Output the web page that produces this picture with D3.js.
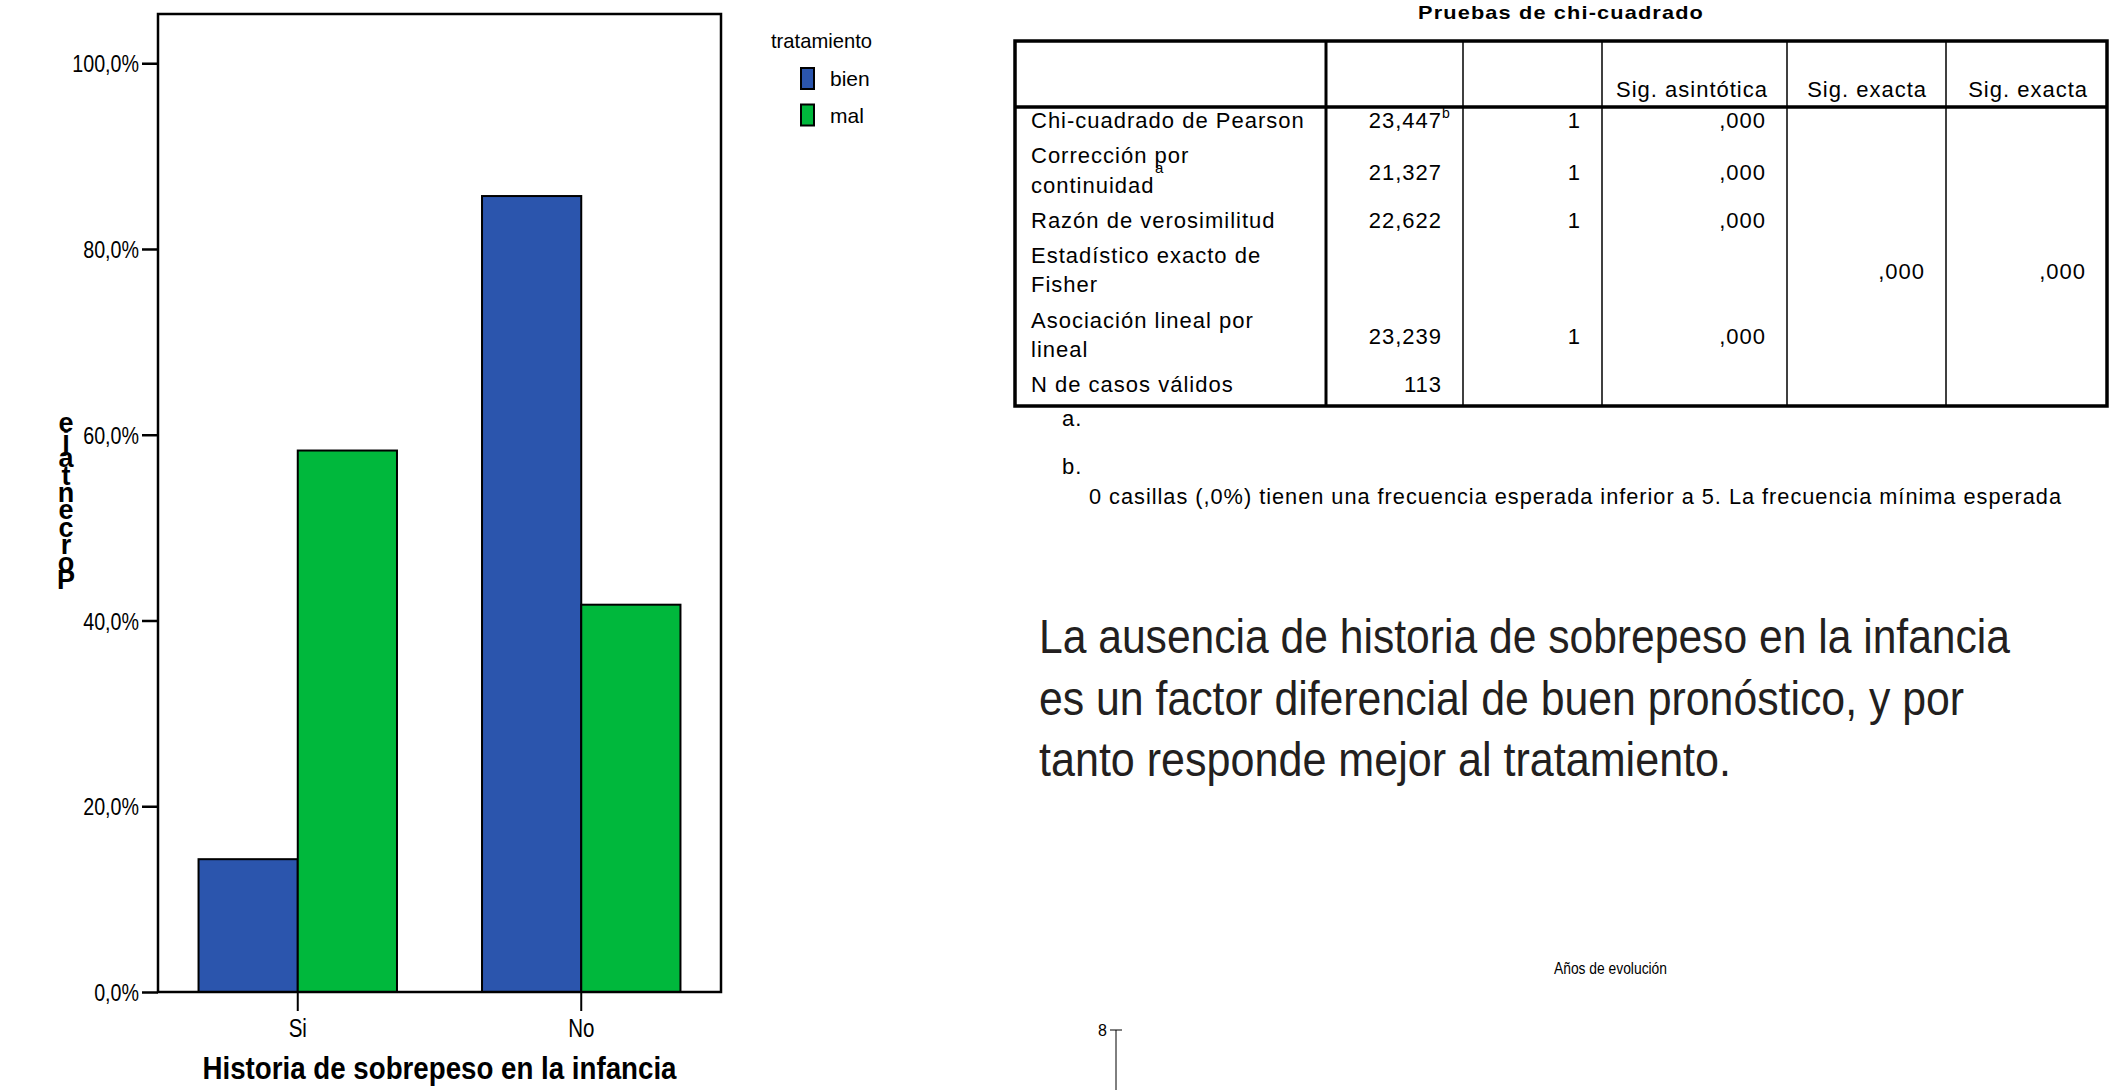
<!DOCTYPE html>
<html>
<head>
<meta charset="utf-8">
<script src="https://cdn.jsdelivr.net/npm/d3@7"></script>
<style>
  body { margin: 0; background: #fff; }
  text { fill: #000; }
  .narrow { font-family: "Liberation Sans", Arial, sans-serif; }
  .tbl { font-family: "Liberation Sans", Arial, sans-serif; font-size: 22px; letter-spacing: 1px; }
</style>
</head>
<body>
<div id="chart"></div>
<script>
// chart data
const categories = ["Si", "No"];
const groups = ["bien", "mal"];
const bien = [14.3, 85.7];
const mal = [58.3, 41.7];
const yTicks = [0, 20, 40, 60, 80, 100];
const colors = { bien: "#2b55ad", mal: "#00b83c" };

// table data
const tableTitle = "Pruebas de chi-cuadrado";
const headers = ["", "", "", "Sig. asintótica", "Sig. exacta", "Sig. exacta"];
const rowLabels = [["Chi-cuadrado de Pearson"], ["Corrección por", "continuidad"], ["Razón de verosimilitud"],
  ["Estadístico exacto de", "Fisher"], ["Asociación lineal por", "lineal"], ["N de casos válidos"]];
const valor = ["23,447", "21,327", "22,622", "", "23,239", "113"];
const gl = ["1", "1", "1", "", "1", ""];
const sigAsint = [",000", ",000", ",000", "", ",000", ""];
const sigExacta1 = ["", "", "", ",000", "", ""];
const sigExacta2 = ["", "", "", ",000", "", ""];
const footA = "a.";
const footB = "b.";
const footText = "0 casillas (,0%) tienen una frecuencia esperada inferior a 5. La frecuencia mínima esperada";
const bigText = ["La ausencia de historia de sobrepeso en la infancia",
  "es un factor diferencial de buen pronóstico, y por",
  "tanto responde mejor al tratamiento."];

const W = 2127, H = 1090;
const svg = d3.select("#chart").append("svg").attr("width", W).attr("height", H);

// squeeze text to look like a condensed face (no narrow font installed)
function squeeze(sel, k) {
  sel.each(function () {
    const L = this.getComputedTextLength();
    d3.select(this).attr("textLength", L * k).attr("lengthAdjust", "spacingAndGlyphs");
  });
}

// ---------- bar chart ----------
const plot = { left: 158, right: 721, top: 14, bottom: 992 };

const x = d3.scaleBand().domain(categories).range([plot.left, plot.right])
  .paddingInner(0.3).paddingOuter(0.143);
const xg = d3.scaleBand().domain(groups).range([0, x.bandwidth()]);
const y = d3.scaleLinear().domain([0, 105.3]).range([plot.bottom, plot.top]);

const series = { bien: bien, mal: mal };
const barData = [];
categories.forEach((c, i) => groups.forEach(g => barData.push({ cat: c, grp: g, v: series[g][i] })));

svg.append("g").selectAll("rect").data(barData).enter().append("rect")
  .attr("x", d => x(d.cat) + xg(d.grp))
  .attr("y", d => y(d.v))
  .attr("width", xg.bandwidth())
  .attr("height", d => y(0) - y(d.v))
  .attr("fill", d => colors[d.grp])
  .attr("stroke", "#000").attr("stroke-width", 2);

// frame
svg.append("rect")
  .attr("x", plot.left).attr("y", plot.top)
  .attr("width", plot.right - plot.left).attr("height", plot.bottom - plot.top)
  .attr("fill", "none").attr("stroke", "#000").attr("stroke-width", 2.5);

// y axis
const yAxis = svg.append("g").attr("class", "narrow")
  .attr("transform", `translate(${plot.left},0)`)
  .call(d3.axisLeft(y).tickValues(yTicks).tickSize(16).tickPadding(3)
    .tickFormat(d => d.toFixed(1).replace(".", ",") + "%"));
yAxis.select(".domain").remove();
yAxis.selectAll(".tick line").attr("stroke", "#000").attr("stroke-width", 2.5);
yAxis.selectAll(".tick text").attr("font-size", 24).attr("fill", "#000").attr("dy", "0.36em")
  .call(squeeze, 0.82);

// x axis
const xAxis = svg.append("g").attr("class", "narrow")
  .attr("transform", `translate(0,${plot.bottom})`)
  .call(d3.axisBottom(x).tickSize(19).tickPadding(8));
xAxis.select(".domain").remove();
xAxis.selectAll(".tick line").attr("stroke", "#000").attr("stroke-width", 2);
xAxis.selectAll(".tick text").attr("font-size", 25).attr("fill", "#000").call(squeeze, 0.82);

// x title
svg.append("text").attr("class", "narrow")
  .attr("x", (plot.left + plot.right) / 2).attr("y", 1079)
  .attr("text-anchor", "middle").attr("font-size", 32).attr("font-weight", "bold")
  .attr("textLength", 474).attr("lengthAdjust", "spacingAndGlyphs")
  .text("Historia de sobrepeso en la infancia");

// y title: upright glyphs stacked bottom to top (as in the export)
const yTitle = "Porcentaje";
svg.append("g").selectAll("text").data(yTitle.split("")).enter().append("text")
  .attr("x", 66).attr("y", (d, i) => 589 - i * 17.4)
  .attr("text-anchor", "middle")
  .attr("font-family", "Liberation Sans, Arial, sans-serif")
  .attr("font-weight", "bold").attr("font-size", 27)
  .text(d => d);

// legend
const legend = svg.append("g").attr("font-family", "Liberation Sans, Arial, sans-serif");
legend.append("text").attr("x", 771).attr("y", 48).attr("font-size", 21)
  .attr("textLength", 101).attr("lengthAdjust", "spacingAndGlyphs").text("tratamiento");
const li = legend.selectAll("g.item").data(groups).enter().append("g").attr("class", "item")
  .attr("transform", (d, i) => `translate(801,${68 + i * 36.5})`);
li.append("rect").attr("width", 13).attr("height", 21)
  .attr("fill", d => colors[d]).attr("stroke", "#000").attr("stroke-width", 2);
li.append("text").attr("x", 29).attr("y", 18).attr("font-size", 21).text(d => d);

// ---------- chi-square table ----------
const colX = [1015, 1326, 1463, 1602, 1787, 1946, 2107];
const tTop = 41, tHead = 107, tBottom = 406;
const valueBase = [128, 180, 228, 279, 344, 392];
const labelBase = [[128], [163, 193], [228], [263, 292], [328, 357], [392]];
const tbl = svg.append("g").attr("class", "tbl");

tbl.append("text").attr("x", (colX[0] + colX[6]) / 2).attr("y", 19)
  .attr("text-anchor", "middle").attr("font-weight", "bold").attr("font-size", 19)
  .attr("textLength", 286).attr("lengthAdjust", "spacingAndGlyphs").text(tableTitle);

// column lines
colX.slice(1, 6).forEach((cx, i) => {
  tbl.append("line").attr("x1", cx).attr("x2", cx).attr("y1", tTop).attr("y2", tBottom)
    .attr("stroke", "#000").attr("stroke-width", i === 0 ? 3 : 1.5);
});
tbl.append("line").attr("x1", colX[0]).attr("x2", colX[6]).attr("y1", tHead).attr("y2", tHead)
  .attr("stroke", "#000").attr("stroke-width", 3.5);
tbl.append("rect").attr("x", colX[0]).attr("y", tTop)
  .attr("width", colX[6] - colX[0]).attr("height", tBottom - tTop)
  .attr("fill", "none").attr("stroke", "#000").attr("stroke-width", 3.5);

headers.forEach((h, i) => {
  if (!h) return;
  tbl.append("text").attr("x", colX[i + 1] - 19).attr("y", 97).attr("text-anchor", "end").text(h);
});

rowLabels.forEach((lines, r) => {
  lines.forEach((ln, k) => {
    tbl.append("text").attr("x", 1031).attr("y", labelBase[r][k]).text(ln);
  });
});
// footnote marker under "por"
tbl.append("text").attr("x", 1155).attr("y", 173).attr("font-size", 15).text("a");

const cols = [valor, gl, sigAsint, sigExacta1, sigExacta2];
cols.forEach((col, c) => {
  col.forEach((v, r) => {
    if (!v) return;
    tbl.append("text").attr("x", colX[c + 2] - 21).attr("y", valueBase[r])
      .attr("text-anchor", "end").text(v);
  });
});
tbl.append("text").attr("x", colX[2] - 21).attr("y", 118).attr("font-size", 14).text("b");

// footnotes
tbl.append("text").attr("x", 1062).attr("y", 426).text(footA);
tbl.append("text").attr("x", 1062).attr("y", 474).text(footB);
tbl.append("text").attr("x", 1089).attr("y", 504)
  .attr("textLength", 973).attr("lengthAdjust", "spacingAndGlyphs").text(footText);

// ---------- conclusion text ----------
const bigW = [971, 925, 692];
svg.append("g").attr("class", "narrow").selectAll("text").data(bigText).enter().append("text")
  .attr("x", 1039).attr("y", (d, i) => 653 + i * 61.5)
  .attr("font-size", 48).style("fill", "#231f20")
  .attr("textLength", (d, i) => bigW[i]).attr("lengthAdjust", "spacingAndGlyphs")
  .text(d => d);

// ---------- fragment of next chart ----------
svg.append("text").attr("class", "narrow").attr("x", 1554).attr("y", 974)
  .attr("font-size", 16).attr("textLength", 113).attr("lengthAdjust", "spacingAndGlyphs")
  .text("Años de evolución");
svg.append("text").attr("class", "narrow").attr("x", 1107).attr("y", 1036)
  .attr("text-anchor", "end").attr("font-size", 16).text("8");
svg.append("line").attr("x1", 1110).attr("x2", 1122).attr("y1", 1030).attr("y2", 1030)
  .attr("stroke", "#000").attr("stroke-width", 1);
svg.append("line").attr("x1", 1116).attr("x2", 1116).attr("y1", 1030).attr("y2", 1090)
  .attr("stroke", "#000").attr("stroke-width", 1);
</script>
</body>
</html>
